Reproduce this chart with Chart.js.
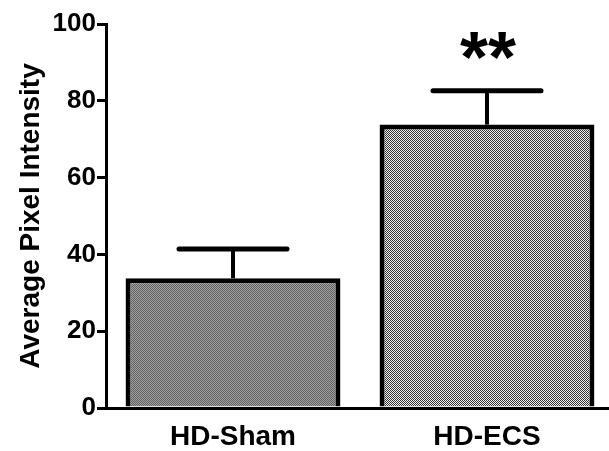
<!DOCTYPE html>
<html>
<head>
<meta charset="utf-8">
<script src="https://cdn.jsdelivr.net/npm/chart.js@4/dist/chart.umd.min.js"></script>
<style>
  html, body { margin: 0; padding: 0; background: #fff; overflow: hidden; width: 609px; height: 451px; }
  canvas { display: block; }
</style>
</head>
<body>
<canvas id="c" width="614" height="451"></canvas>
<script>
const categories = ['HD-Sham', 'HD-ECS'];
const means = [33.8, 73.8];
const sem = [7.6, 8.8];
const significance = ['', '**'];
const yTicks = [0, 20, 40, 60, 80, 100];
const yTitle = 'Average Pixel Intensity';

function makePattern(a, b) {
  const c = document.createElement('canvas');
  c.width = 2; c.height = 2;
  const g = c.getContext('2d');
  g.fillStyle = a; g.fillRect(0, 0, 2, 2);
  g.fillStyle = b; g.fillRect(0, 0, 1, 1); g.fillRect(1, 1, 1, 1);
  return g.createPattern(c, 'repeat');
}
const ctx = document.getElementById('c').getContext('2d');
const fills = [makePattern('#a0a0a0', '#626262'), makePattern('#f0f0f0', '#333333')];

const errorBars = {
  id: 'errorBars',
  afterDatasetsDraw(chart) {
    const g = chart.ctx;
    const ys = chart.scales.y;
    const meta = chart.getDatasetMeta(0);
    meta.data.forEach((bar, i) => {
      const x = bar.x;
      const top = ys.getPixelForValue(means[i] + sem[i]);
      g.save();
      g.strokeStyle = '#000';
      g.lineWidth = 4;
      g.lineCap = 'butt';
      g.beginPath(); g.moveTo(x, bar.y); g.lineTo(x, top); g.stroke();
      g.lineWidth = 5;
      g.lineCap = 'round';
      g.beginPath(); g.moveTo(x - 54, top); g.lineTo(x + 54, top); g.stroke();
      if (significance[i]) {
        g.fillStyle = '#000';
        g.font = 'bold 72px "Liberation Sans", Arial, sans-serif';
        g.textAlign = 'center';
        g.textBaseline = 'alphabetic';
        g.fillText(significance[i], x + 1, top - 9);
      }
      g.restore();
    });
  }
};

new Chart(ctx, {
  type: 'bar',
  data: {
    labels: categories,
    datasets: [{
      data: means,
      backgroundColor: fills,
      borderColor: '#000',
      borderWidth: 5,
      borderSkipped: 'start',
      barPercentage: 0.846,
      categoryPercentage: 1
    }]
  },
  options: {
    responsive: false,
    animation: false,
    layout: { padding: { top: 24, left: 0, right: 0, bottom: 0 } },
    plugins: { legend: { display: false }, tooltip: { enabled: false } },
    scales: {
      x: {
        grid: { display: false },
        border: { display: true, width: 3, color: '#000' },
        ticks: {
          color: '#000',
          padding: 4,
          font: { family: '"Liberation Sans", Arial, sans-serif', size: 28, weight: 'bold' }
        },
        afterFit(s) { s.height = 43; }
      },
      y: {
        min: 0,
        max: 100,
        afterBuildTicks(s) { s.ticks = yTicks.map(v => ({ value: v })); },
        ticks: {
          color: '#000',
          padding: 1,
          font: { family: '"Liberation Sans", Arial, sans-serif', size: 26, weight: 'bold' }
        },
        grid: { drawOnChartArea: false, drawTicks: true, tickLength: 9, lineWidth: 3, color: '#000' },
        border: { display: true, width: 3, color: '#000' },
        title: {
          display: true,
          text: yTitle,
          color: '#000',
          font: { family: '"Liberation Sans", Arial, sans-serif', size: 28, weight: 'bold', lineHeight: 1 },
          padding: { top: 17, bottom: 0 }
        },
        afterFit(s) { s.width = 106; }
      }
    }
  },
  plugins: [errorBars]
});
</script>
</body>
</html>
